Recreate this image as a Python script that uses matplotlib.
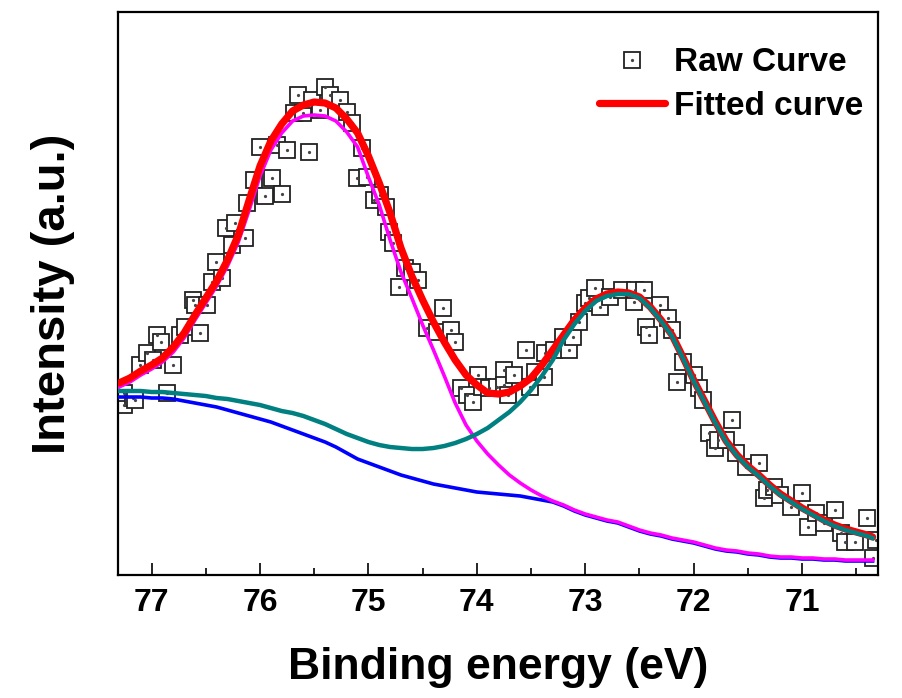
import numpy as np
import matplotlib
import matplotlib.pyplot as plt

matplotlib.use('Agg')

plt.rcParams['font.family'] = ['Liberation Sans', 'DejaVu Sans']
plt.rcParams['font.weight'] = 'bold'

# energy grid of the fitted curves (eV)
energy = np.append(np.round(np.arange(77.3, 70.35, -0.1), 1), 70.35)

fitted = [192, 197, 204, 210, 217, 228, 242, 260, 277, 294,
          315, 340, 375, 409, 434, 451, 464, 470, 473, 472,
          467, 456, 442, 419, 392, 362, 327, 299, 275, 253,
          233, 215, 200, 190, 182, 181, 183, 189, 197, 210,
          225, 240, 255, 267, 276, 281, 283, 282, 278, 268,
          255, 240, 218, 195, 174, 153, 134, 120, 109, 100,
          90, 81, 74, 67, 61, 55, 50, 46, 43, 40,
          38]

peak1 = [188, 193, 200, 206, 213, 223, 237, 255, 272, 289,
         309, 333, 365, 399, 425, 442, 454, 459, 460, 459,
         454, 443, 428, 398, 370, 335, 303, 277, 250, 225,
         199, 172, 150, 134, 121, 110, 100, 92, 85, 79,
         74, 70, 65, 61, 58, 55, 53, 49, 45, 42,
         40, 37, 35, 33, 30, 27, 25, 24, 22, 21,
         19, 18, 18, 17, 17, 16, 16, 15, 15, 15,
         15]

peak2 = [184, 184, 184, 183, 183, 182, 181, 180, 179, 177,
         176, 174, 172, 170, 167, 164, 162, 159, 155, 151,
         146, 141, 137, 133, 130, 128, 127, 126, 126, 127,
         129, 132, 136, 141, 147, 155, 163, 173, 185, 199,
         215, 235, 251, 264, 274, 279, 281, 281, 277, 267,
         254, 239, 217, 194, 173, 152, 133, 119, 108, 99,
         89, 80, 73, 66, 60, 54, 49, 45, 42, 39,
         37]

background = [178, 178, 178, 177, 177, 176, 174, 172, 170, 168,
              165, 162, 159, 156, 153, 149, 145, 141, 137, 133,
              128, 122, 116, 112, 108, 104, 100, 97, 94, 91,
              89, 87, 85, 83, 82, 81, 80, 79, 77, 75,
              73, 69, 64, 60, 57, 54, 52, 48, 44, 41,
              39, 36, 34, 32, 29, 26, 24, 23, 21, 20,
              18, 17, 17, 16, 16, 15, 15, 14, 14, 14,
              14]

# measured spectrum
raw_e = [77.25, 77.25, 77.17, 77.15, 77.11, 77.04, 76.99, 76.95, 76.91, 76.86,
         76.80, 76.74, 76.69, 76.62, 76.60, 76.55, 76.49, 76.44, 76.41, 76.35,
         76.31, 76.26, 76.23, 76.14, 76.12, 76.06, 76.00, 75.95, 75.89, 75.84,
         75.80, 75.75, 75.69, 75.65, 75.60, 75.55, 75.52, 75.45, 75.40, 75.35,
         75.26, 75.20, 75.15, 75.11, 75.06, 75.01, 74.95, 74.89, 74.84, 74.81,
         74.77, 74.72, 74.66, 74.60, 74.54, 74.46, 74.37, 74.31, 74.24, 74.20,
         74.15, 74.09, 74.04, 73.99, 73.95, 73.89, 73.81, 73.75, 73.75, 73.71,
         73.66, 73.55, 73.51, 73.46, 73.38, 73.37, 73.29, 73.21, 73.15, 73.11,
         73.06, 73.00, 72.97, 72.91, 72.86, 72.77, 72.66, 72.55, 72.54, 72.46,
         72.44, 72.41, 72.31, 72.24, 72.20, 72.15, 72.10, 72.00, 71.95, 71.91,
         71.86, 71.80, 71.78, 71.70, 71.65, 71.61, 71.52, 71.40, 71.35, 71.32,
         71.26, 71.20, 71.10, 71.00, 70.95, 70.87, 70.80, 70.70, 70.64, 70.60,
         70.51, 70.40, 70.35, 70.32]

raw_i = [170, 182, 177, 175, 210, 222, 215, 240, 233, 182,
         210, 240, 248, 275, 270, 242, 270, 293, 313, 297,
         347, 330, 352, 337, 372, 395, 428, 379, 397, 430,
         381, 425, 462, 480, 462, 423, 475, 465, 488, 480,
         475, 463, 452, 397, 427, 398, 375, 380, 368, 343,
         332, 288, 307, 303, 295, 247, 243, 267, 245, 233,
         187, 180, 173, 200, 188, 187, 188, 205, 190, 180,
         200, 225, 188, 203, 198, 222, 225, 238, 225, 238,
         253, 272, 277, 287, 268, 278, 285, 273, 285, 285,
         248, 240, 270, 257, 245, 193, 213, 200, 187, 175,
         142, 127, 135, 135, 155, 122, 108, 112, 77, 85,
         88, 80, 68, 82, 48, 62, 52, 65, 42, 33,
         33, 57, 17, 35]


fig = plt.figure(figsize=(9.02, 6.98), dpi=100)
ax = fig.add_axes([0.1308, 0.1762, 0.8426, 0.8066])

squares, = ax.plot(raw_e, raw_i, linestyle='none', marker='s', ms=11.5,
                   mfc='white', mec='#222222', mew=1.3, zorder=2)
dots, = ax.plot(raw_e, raw_i, linestyle='none', marker='o', ms=1.3,
                color='#444444', zorder=2.1)

ax.plot(energy, background, color='#0000ff', lw=2.6, zorder=3)
ax.plot(energy, peak1, color='#ff00ff', lw=2.6, zorder=4)
fit_line, = ax.plot(energy, fitted, color='#ff0000', lw=5.2,
                    solid_capstyle='round', zorder=5)
ax.plot(energy, peak2, color='#008080', lw=3.2, zorder=6)

ax.set_xlim(77.31, 70.30)
ax.set_ylim(0, 563)

ax.set_xticks([77, 76, 75, 74, 73, 72, 71])
ax.set_xticks([76.5, 75.5, 74.5, 73.5, 72.5, 71.5, 70.5], minor=True)
ax.set_yticks([])

ax.tick_params(axis='x', which='major', direction='in', length=8.5,
               width=1.2, labelsize=23, pad=9)
ax.tick_params(axis='x', which='minor', direction='in', length=5, width=1.2)
ax.tick_params(top=False, right=False, left=False)

for side in ['left', 'right', 'top', 'bottom']:
    ax.spines[side].set_linewidth(1.6)

ax.set_xlabel('Binding energy (eV)', fontsize=32, fontweight='bold',
              labelpad=21)
ax.set_ylabel('Intensity (a.u.)', fontsize=34, fontweight='bold',
              labelpad=31)

ax.legend([(squares, dots), fit_line], ['Raw Curve', 'Fitted curve'],
          loc='upper right', bbox_to_anchor=(0.980, 0.937),
          frameon=False, fontsize=24, handlelength=2.0,
          handletextpad=0.25, labelspacing=0.38, borderpad=0,
          borderaxespad=0)

plt.savefig('out.png', dpi=100)
plt.close()
